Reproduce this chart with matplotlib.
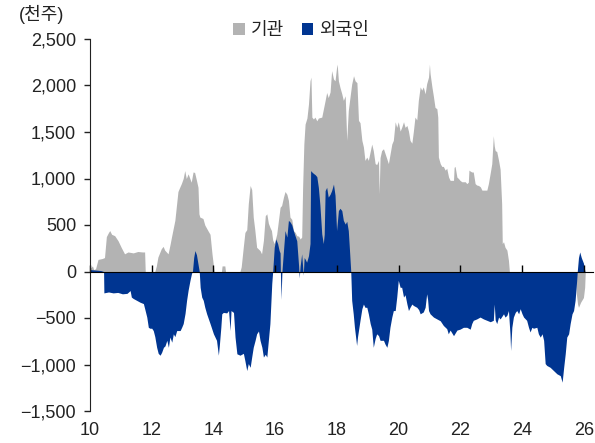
import matplotlib
matplotlib.use('Agg')
import matplotlib.pyplot as plt
from matplotlib.patches import Patch
from matplotlib.ticker import FuncFormatter

params = {
    'font.family': ['Liberation Sans', 'Noto Sans CJK KR'],
    'font.size': 13,
    'axes.unicode_minus': True,
}
plt.rcParams.update(params)

# 기관 (institutions), 천주
inst_t = [2010.00, 2010.02, 2010.08, 2010.12, 2010.18, 2010.26, 2010.40, 2010.47, 2010.53, 2010.60,
          2010.64, 2010.70, 2010.80, 2010.91, 2011.01, 2011.12, 2011.23, 2011.40, 2011.55, 2011.70,
          2011.77, 2011.79, 2012.10, 2012.15, 2012.20, 2012.31, 2012.37, 2012.42, 2012.53, 2012.60,
          2012.64, 2012.75, 2012.85, 2012.90, 2012.96, 2013.02, 2013.07, 2013.12, 2013.18, 2013.28,
          2013.34, 2013.39, 2013.45, 2013.50, 2013.53, 2013.56, 2013.66, 2013.72, 2013.82, 2013.89,
          2013.95, 2014.00, 2014.02, 2014.26, 2014.28, 2014.37, 2014.39, 2014.86, 2014.90, 2014.97,
          2015.02, 2015.08, 2015.13, 2015.19, 2015.24, 2015.29, 2015.34, 2015.40, 2015.51, 2015.56,
          2015.62, 2015.68, 2015.73, 2015.78, 2015.83, 2015.88, 2015.92, 2015.97, 2016.05, 2016.16,
          2016.21, 2016.27, 2016.32, 2016.38, 2016.43, 2016.48, 2016.54, 2016.59, 2016.65, 2016.70,
          2016.76, 2016.81, 2016.86, 2016.89, 2016.93, 2016.97, 2017.03, 2017.08, 2017.13, 2017.16,
          2017.19, 2017.24, 2017.29, 2017.35, 2017.40, 2017.51, 2017.62, 2017.67, 2017.72, 2017.78,
          2017.83, 2017.89, 2017.94, 2017.99, 2018.01, 2018.05, 2018.10, 2018.16, 2018.21, 2018.27,
          2018.32, 2018.37, 2018.48, 2018.54, 2018.59, 2018.65, 2018.70, 2018.75, 2018.81, 2018.86,
          2018.91, 2018.97, 2019.02, 2019.13, 2019.18, 2019.24, 2019.29, 2019.35, 2019.37, 2019.40,
          2019.45, 2019.51, 2019.56, 2019.67, 2019.78, 2019.83, 2019.89, 2019.94, 2019.99, 2020.05,
          2020.10, 2020.16, 2020.21, 2020.27, 2020.32, 2020.37, 2020.43, 2020.48, 2020.53, 2020.59,
          2020.64, 2020.70, 2020.75, 2020.80, 2020.86, 2020.91, 2020.97, 2021.00, 2021.02, 2021.08,
          2021.13, 2021.18, 2021.24, 2021.27, 2021.29, 2021.35, 2021.40, 2021.45, 2021.51, 2021.56,
          2021.62, 2021.67, 2021.72, 2021.78, 2021.80, 2021.83, 2021.89, 2021.94, 2021.99, 2022.05,
          2022.16, 2022.21, 2022.26, 2022.28, 2022.32, 2022.37, 2022.42, 2022.48, 2022.53, 2022.59,
          2022.65, 2022.70, 2022.86, 2022.91, 2022.97, 2023.02, 2023.07, 2023.10, 2023.13, 2023.18,
          2023.24, 2023.29, 2023.34, 2023.36, 2023.40, 2023.45, 2023.51, 2023.56, 2023.59, 2025.72,
          2025.76, 2025.80, 2025.83, 2025.90, 2025.99, 2026.03, 2026.05]
inst_v = [0, 40, 60, 20, 30, 130, 140, 150, 375, 420,
          440, 400, 385, 330, 260, 190, 210, 200, 215, 210,
          210, 0, 0, 60, 155, 245, 270, 230, 190, 300,
          370, 550, 860, 900, 945, 1000, 1085, 1000, 1050, 960,
          1070, 1065, 980, 905, 620, 585, 570, 500, 440, 400,
          200, 60, 0, 0, 60, 60, 0, 0, 50, 270,
          420, 450, 730, 925, 880, 585, 450, 260, 225, 190,
          335, 600, 620, 520, 475, 440, 340, 300, 400, 690,
          710, 800, 860, 830, 765, 585, 560, 440, 420, 385,
          380, 350, 370, 900, 1370, 1585, 1650, 1800, 2050, 2090,
          1660, 1640, 1660, 1620, 1650, 1660, 1840, 1925, 1870, 1930,
          2160, 2070, 2050, 2195, 2230, 2050, 1980, 1910, 1840, 1890,
          1410, 1730, 2015, 2105, 2050, 2030, 1625, 1600, 1410, 1340,
          1195, 1230, 1195, 1370, 1300, 1160, 1150, 1195, 835, 1225,
          1300, 1320, 1270, 1160, 1370, 1410, 1610, 1550, 1610, 1510,
          1550, 1610, 1550, 1570, 1510, 1410, 1380, 1510, 1660, 1630,
          1840, 1985, 1950, 1985, 1910, 2020, 2090, 2230, 2130, 1985,
          1880, 1765, 1750, 1660, 1230, 1160, 1130, 1130, 1090, 1110,
          1015, 980, 980, 980, 1120, 1130, 1015, 1000, 980, 965,
          965, 945, 960, 1090, 1080, 1070, 1070, 945, 930, 925,
          910, 875, 875, 945, 1060, 1160, 1460, 1350, 1300, 1290,
          1195, 1100, 730, 300, 320, 260, 230, 120, 0, 0,
          -240, -350, -385, -330, -280, -170, 0]

# 외국인 (foreigners), 천주
frgn_t = [2010.00, 2010.02, 2010.20, 2010.35, 2010.44, 2010.45, 2010.60, 2010.75, 2010.90, 2011.05,
          2011.20, 2011.30, 2011.34, 2011.40, 2011.51, 2011.62, 2011.73, 2011.78, 2011.84, 2011.89,
          2011.94, 2012.00, 2012.05, 2012.10, 2012.16, 2012.21, 2012.27, 2012.32, 2012.38, 2012.43,
          2012.49, 2012.54, 2012.59, 2012.65, 2012.70, 2012.75, 2012.81, 2012.92, 2012.97, 2013.02,
          2013.08, 2013.13, 2013.18, 2013.24, 2013.29, 2013.32, 2013.36, 2013.40, 2013.45, 2013.50,
          2013.54, 2013.57, 2013.62, 2013.67, 2013.72, 2013.78, 2013.89, 2014.00, 2014.10, 2014.16,
          2014.19, 2014.24, 2014.27, 2014.32, 2014.43, 2014.49, 2014.54, 2014.57, 2014.65, 2014.70,
          2014.76, 2014.86, 2014.97, 2015.02, 2015.08, 2015.13, 2015.19, 2015.24, 2015.29, 2015.35,
          2015.40, 2015.46, 2015.51, 2015.57, 2015.62, 2015.68, 2015.73, 2015.78, 2015.83, 2015.89,
          2015.92, 2015.97, 2016.02, 2016.08, 2016.13, 2016.16, 2016.17, 2016.19, 2016.22, 2016.27,
          2016.32, 2016.38, 2016.43, 2016.49, 2016.54, 2016.59, 2016.65, 2016.70, 2016.76, 2016.78,
          2016.81, 2016.86, 2016.91, 2016.94, 2016.97, 2017.02, 2017.08, 2017.13, 2017.15, 2017.19,
          2017.24, 2017.30, 2017.35, 2017.40, 2017.45, 2017.51, 2017.56, 2017.59, 2017.62, 2017.67,
          2017.72, 2017.78, 2017.83, 2017.89, 2017.94, 2017.99, 2018.05, 2018.10, 2018.16, 2018.21,
          2018.27, 2018.32, 2018.37, 2018.41, 2018.45, 2018.48, 2018.53, 2018.57, 2018.64, 2018.67,
          2018.75, 2018.81, 2018.86, 2018.91, 2018.97, 2019.02, 2019.08, 2019.13, 2019.18, 2019.24,
          2019.29, 2019.35, 2019.40, 2019.51, 2019.56, 2019.62, 2019.67, 2019.72, 2019.78, 2019.83,
          2019.89, 2019.94, 2019.99, 2020.05, 2020.10, 2020.16, 2020.21, 2020.27, 2020.32, 2020.37,
          2020.43, 2020.48, 2020.59, 2020.65, 2020.70, 2020.80, 2020.86, 2020.91, 2020.94, 2020.97,
          2021.02, 2021.13, 2021.24, 2021.35, 2021.45, 2021.56, 2021.61, 2021.67, 2021.78, 2021.89,
          2021.99, 2022.10, 2022.21, 2022.32, 2022.37, 2022.42, 2022.53, 2022.64, 2022.75, 2022.86,
          2022.97, 2023.07, 2023.10, 2023.13, 2023.18, 2023.24, 2023.29, 2023.40, 2023.45, 2023.51,
          2023.56, 2023.61, 2023.63, 2023.67, 2023.72, 2023.78, 2023.83, 2023.89, 2023.94, 2024.00,
          2024.05, 2024.15, 2024.21, 2024.26, 2024.32, 2024.37, 2024.48, 2024.53, 2024.59, 2024.65,
          2024.70, 2024.75, 2024.80, 2024.91, 2025.02, 2025.13, 2025.24, 2025.30, 2025.35, 2025.40,
          2025.45, 2025.51, 2025.56, 2025.62, 2025.67, 2025.72, 2025.77, 2025.79, 2025.83, 2025.87,
          2025.92, 2025.99, 2026.04]
frgn_v = [0, 20, 15, 10, 0, -230, -220, -230, -225, -240,
          -235, -205, -275, -290, -310, -330, -345, -410, -490, -600,
          -610, -610, -635, -700, -815, -880, -900, -870, -815, -800,
          -740, -815, -705, -760, -670, -700, -635, -635, -600, -560,
          -450, -310, -200, -95, -20, 0, 150, 225, 180, 80,
          0, -170, -275, -310, -385, -455, -560, -670, -740, -900,
          -800, -600, -455, -440, -445, -420, -635, -420, -440, -705,
          -885, -900, -880, -960, -1065, -990, -1030, -920, -815, -740,
          -670, -640, -740, -815, -920, -890, -920, -740, -560, -130,
          0, 260, 350, 300, 225, 200, 0, -300, 0, 225,
          440, 370, 550, 530, 500, 440, 380, 330, 60, -70,
          60, 190, -40, 150, 135, 100, 170, 300, 1085, 1070,
          1055, 1040, 1020, 905, 715, 405, 300, 400, 870, 905,
          800, 830, 870, 940, 820, 440, 655, 680, 655, 550,
          510, 540, 440, 225, 0, -310, -455, -600, -795, -700,
          -525, -400, -350, -385, -385, -455, -560, -620, -815, -720,
          -670, -690, -740, -740, -780, -815, -740, -600, -490, -420,
          -420, -275, -95, -170, -170, -275, -250, -350, -420, -385,
          -350, -365, -385, -410, -455, -435, -385, -240, -300, -420,
          -455, -490, -510, -530, -580, -615, -670, -630, -690, -630,
          -620, -600, -600, -620, -560, -525, -510, -490, -510, -525,
          -540, -525, -350, -520, -560, -490, -510, -455, -490, -470,
          -420, -670, -850, -600, -490, -440, -420, -455, -400, -455,
          -490, -525, -600, -650, -600, -610, -600, -670, -705, -670,
          -740, -990, -1010, -1030, -1065, -1100, -1120, -1190, -1030, -885,
          -705, -670, -560, -455, -420, -310, -100, 0, 150, 210,
          150, 90, 0]

year_ticks = [2010, 2012, 2014, 2016, 2018, 2020, 2022, 2024, 2026]
year_labels = ['10', '12', '14', '16', '18', '20', '22', '24', '26']
y_ticks = [-1500, -1000, -500, 0, 500, 1000, 1500, 2000, 2500]

c_inst = '#b3b3b3'
c_frgn = '#003591'

fig = plt.figure(figsize=(5.95, 4.43), dpi=100)
ax = fig.add_axes([90 / 595, 32 / 443, 503 / 595, 372 / 443])

ax.fill_between(inst_t, inst_v, 0, color=c_inst, linewidth=0)
ax.fill_between(frgn_t, frgn_v, 0, color=c_frgn, linewidth=0)

ax.set_xlim(2010, 2026.3)
ax.set_ylim(-1500, 2500)
ax.set_yticks(y_ticks)
ax.yaxis.set_major_formatter(FuncFormatter(lambda v, p: '{:,.0f}'.format(v).replace('-', '\u2212')))
ax.tick_params(axis='y', direction='out', length=4, width=1, pad=6, labelsize=13, colors='#222222')

# x axis line sits at zero, labels stay at the bottom
for s in ['top', 'right']:
    ax.spines[s].set_visible(False)
ax.spines['bottom'].set_position(('data', 0))
ax.spines['left'].set_color('#222222')
ax.spines['bottom'].set_color('black')
ax.set_xticks(year_ticks)
ax.tick_params(axis='x', direction='in', length=5, width=1, labelbottom=False)

sec = ax.secondary_xaxis('bottom')
sec.set_xticks(year_ticks, year_labels)
sec.spines['bottom'].set_visible(False)
sec.tick_params(axis='x', length=0, pad=8, labelsize=13, colors='#222222')

fig.text(42 / 595, 1 - 14 / 443, '(천주)', ha='center', va='center', fontsize=13, color='#222222')

handles = [Patch(facecolor=c_inst, edgecolor='none', label='기관'),
           Patch(facecolor=c_frgn, edgecolor='none', label='외국인')]
fig.legend(handles=handles, loc='center', bbox_to_anchor=(301 / 595, 1 - 31 / 443), ncol=2,
           frameon=False, handlelength=0.65, handleheight=0.65, handletextpad=0.3,
           columnspacing=1.0, fontsize=13, labelcolor='#222222')

plt.savefig('out.png', dpi=100)
